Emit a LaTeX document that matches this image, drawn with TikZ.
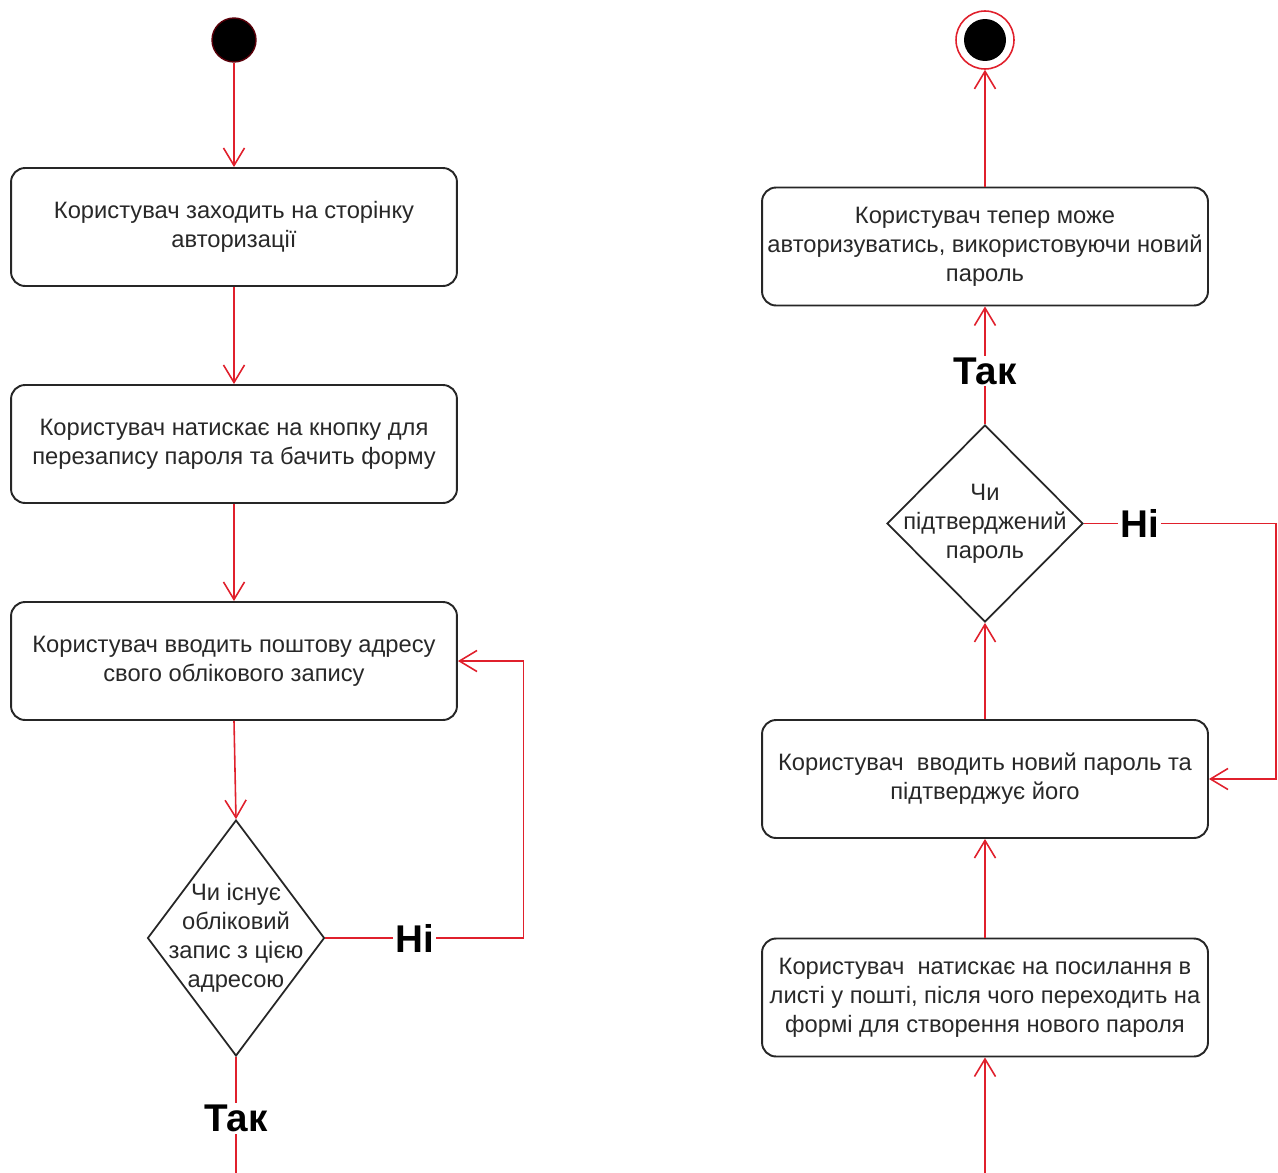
\documentclass[tikz,border=0pt]{standalone}
\usepackage{fontspec}
\setmainfont{Liberation Sans}
\usetikzlibrary{shapes.geometric,arrows.meta}
\definecolor{flowred}{RGB}{224,32,44}
\definecolor{ink}{RGB}{40,40,40}
\definecolor{darkrim}{RGB}{90,0,10}
\begin{document}
\begin{tikzpicture}[x=0.02cm,y=-0.02cm,
  act/.style={draw=black!85, line width=1.1pt, rounded corners=8pt,
    minimum width=8.92cm, minimum height=2.36cm, align=center, text=ink,
    font=\fontsize{13.5}{16.5}\selectfont, inner sep=2pt},
  decision/.style={draw=black!85, line width=1pt, diamond, inner sep=0pt},
  dtext/.style={align=center, text=ink, font=\fontsize{13.5}{16.5}\selectfont},
  flow/.style={draw=flowred, line width=0.9pt,
    -{Straight Barb[length=10pt,width=12pt,line width=0.9pt]}},
  line/.style={draw=flowred, line width=0.9pt},
  guard/.style={fill=white, inner sep=1pt, text=black,
    font=\fontsize{22}{22}\selectfont\bfseries},
  startnode/.style={circle, fill=black, draw=darkrim, line width=0.8pt,
    minimum size=0.88cm, inner sep=0pt},
  endring/.style={circle, draw=flowred, line width=0.9pt, fill=white,
    minimum size=1.16cm, inner sep=0pt},
]
\useasboundingbox (0,0) rectangle (1278,1173);

% left column: request a reset
\node[startnode] (s) at (234,40) {};
\node[act] (a1) at (234,227) {Користувач заходить на сторінку\\авторизації};
\node[act] (a2) at (234,444) {Користувач натискає на кнопку для\\перезапису пароля та бачить форму};
\node[act] (a3) at (234,661) {Користувач вводить поштову адресу\\свого облікового запису};
\node[decision, minimum width=3.54cm, minimum height=4.72cm] (d1) at (236,938) {};
\node[dtext] (d1t) at (d1.center) {Чи існує\\обліковий\\запис з цією\\адресою};
\coordinate (lout) at (236,1173);

% right column: set the new password
\coordinate (rin) at (985,1173);
\node[act] (b1) at (985,997.5) {Користувач~ натискає на посилання в\\листі у пошті, після чого переходить на\\формі для створення нового пароля};
\node[act] (b2) at (985,779) {Користувач~ вводить новий пароль та\\підтверджує його};
\node[decision, minimum width=3.92cm, minimum height=3.94cm] (d2) at (985,523.5) {};
\node[dtext] (d2t) at (d2.center) {Чи\\підтверджений\\пароль};
\node[act] (b3) at (985,246.5) {Користувач тепер може\\авторизуватись, використовуючи новий\\пароль};
\node[endring] (e) at (985,40) {};
\fill[black] (e.center) circle[radius=0.42cm];

% connectors
\draw[flow] (s) -- (a1);
\draw[flow] (a1) -- (a2);
\draw[flow] (a2) -- (a3);
\draw[flow] (a3.south) -- (d1.north);
\draw[flow] (d1.east) -- node[guard, pos=0.45] {Ні} ++(198,0) |- (a3.east);
\draw[line] (d1.south) -- node[guard, pos=0.53] {Так} (lout);

\draw[flow] (rin) -- (b1.south);
\draw[flow] (b1.north) -- (b2.south);
\draw[flow] (b2.north) -- (d2.south);
\draw[flow] (d2.east) -- node[guard, pos=0.29] {Ні} ++(192,0) |- (b2.east);
\draw[flow] (d2.north) -- node[guard, pos=0.45] {Так} (b3.south);
\draw[flow] (b3.north) -- (e.south);
\end{tikzpicture}
\end{document}
